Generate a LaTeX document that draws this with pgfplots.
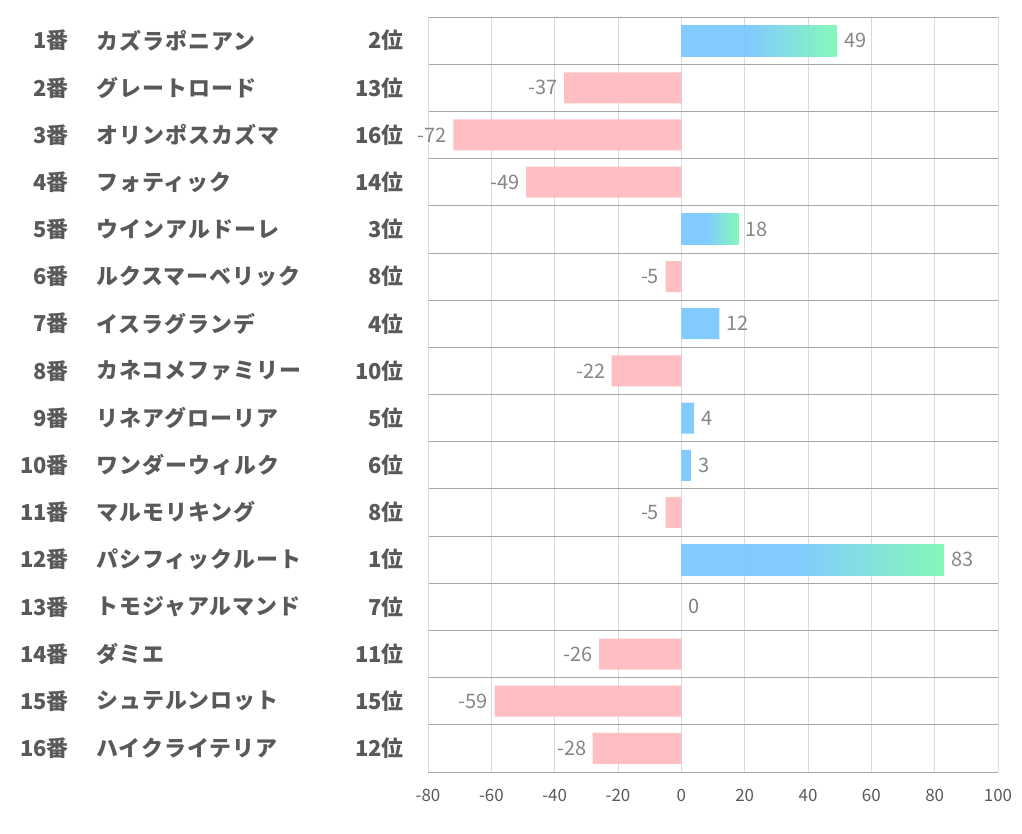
\documentclass[border=0pt]{standalone}
\usepackage{fontspec}
\setmainfont{Noto Sans CJK JP}
\usepackage{pgfplots}
\pgfplotsset{compat=1.18}
\definecolor{barblue}{HTML}{7BC8FF}
\definecolor{bargreen}{HTML}{7EF8B6}
\definecolor{barpink}{HTML}{FFBBBE}
\definecolor{lab}{HTML}{595959}
\definecolor{vlab}{HTML}{7F7F7F}
\definecolor{hgrid}{HTML}{A6A6A6}
\definecolor{vgrid}{HTML}{D9D9D9}
\pgfdeclarehorizontalshading{bluegreen}{100bp}{color(0bp)=(barblue); color(25bp)=(barblue); color(47bp)=(barblue); color(75bp)=(bargreen); color(100bp)=(bargreen)}
\pgfplotsset{posbar/.style={draw=none, shading=bluegreen, fill opacity=0.95,
  every node near coord/.append style={anchor=west, xshift=4bp}},
  plainbar/.style={draw=none, fill=barblue, fill opacity=0.95,
  every node near coord/.append style={anchor=west, xshift=4bp}}}
\begin{document}
\begin{tikzpicture}[x=1bp,y=1bp]
\path (0,0) rectangle (1022,834);
\begin{axis}[at={(428bp,62bp)}, anchor=south west, scale only axis,
  width=570bp, height=755bp,
  xmin=-80, xmax=100, ymin=0.5, ymax=16.5, y dir=reverse,
  xtick={-80,-60,...,100}, xmajorgrids, x grid style={vgrid, line width=0.8bp},
  ytick={1.5,2.5,...,15.5}, yticklabels={}, ymajorgrids, y grid style={hgrid, line width=0.8bp},
  separate axis lines,
  x axis line style={hgrid, line width=0.8bp},
  y axis line style={vgrid, line width=0.8bp},
  major tick length=0pt,
  /pgf/number format/assume math mode=true,
  xticklabel style={font=\fontsize{17}{19}\selectfont, text=lab, yshift=-14bp},
  xbar, bar width=31bp, bar shift=0pt,
  nodes near coords={\pgfmathprintnumber[assume math mode=true]{\pgfplotspointmeta}},
  nodes near coords style={font=\fontsize{20}{22}\selectfont, text=vlab},
]
\addplot[posbar] coordinates {(49,1)};
\addplot[posbar] coordinates {(18,5)};
\addplot[posbar] coordinates {(83,12)};
\addplot[plainbar] coordinates {(12,7) (4,9) (3,10)};
\addplot[draw=none, fill=barpink, fill opacity=0.95,
  every node near coord/.append style={anchor=east, xshift=-3bp}]
  coordinates {(-37,2) (-72,3) (-49,4) (-5,6) (-22,8) (-5,11) (-26,14) (-59,15) (-28,16)};
\addplot[draw=none, fill=none,
  every node near coord/.append style={anchor=west, xshift=4bp}]
  coordinates {(0,13)};
\end{axis}
\foreach \n/\name/\rank [count=\i] in {1/カズラポニアン/2, 2/グレートロード/13, 3/オリンポスカズマ/16, 4/フォティック/14, 5/ウインアルドーレ/3, 6/ルクスマーベリック/8, 7/イスラグランデ/4, 8/カネコメファミリー/10, 9/リネアグローリア/5, 10/ワンダーウィルク/6, 11/マルモリキング/8, 12/パシフィックルート/1, 13/トモジャアルマンド/7, 14/ダミエ/11, 15/シュテルンロット/15, 16/ハイクライテリア/12} {
  \pgfmathsetmacro\yy{834-17-47.1875*(\i-0.5)}
  \node[anchor=east, text=lab, font=\fontsize{22}{24}\selectfont\bfseries, inner sep=0pt] at (69,\yy) {\n 番};
  \node[anchor=west, text=lab, font=\fontsize{22}{24}\selectfont\bfseries\addfontfeature{LetterSpace=5}, inner sep=0pt] at (96,\yy) {\name};
  \node[anchor=east, text=lab, font=\fontsize{22}{24}\selectfont\bfseries, inner sep=0pt] at (404,\yy) {\rank 位};
}
\end{tikzpicture}
\end{document}
